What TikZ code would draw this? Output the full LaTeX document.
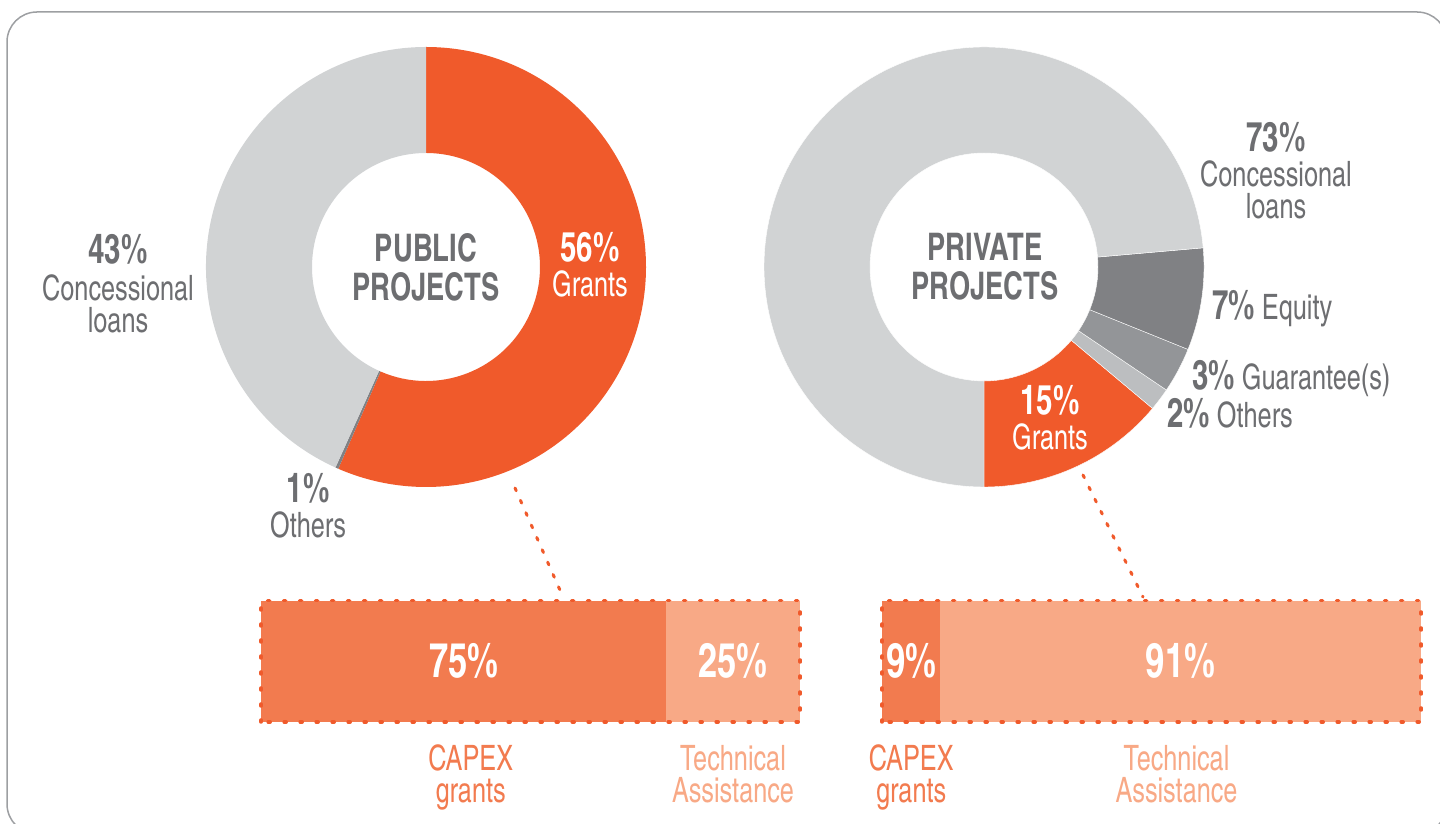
\documentclass[tikz,border=0pt]{standalone}
\usepackage{fontspec}
\setmainfont{texgyreheroscn}[Extension=.otf, UprightFont=*-regular, BoldFont=*-bold, FakeStretch=0.88]
\usetikzlibrary{positioning}
\definecolor{grant}{HTML}{F05A2B}
\definecolor{loan}{HTML}{D1D3D4}
\definecolor{equity}{HTML}{808184}
\definecolor{guar}{HTML}{939598}
\definecolor{othr}{HTML}{BCBEC0}
\definecolor{txtgray}{HTML}{6D6E71}
\definecolor{capex}{HTML}{F27B4F}
\definecolor{techas}{HTML}{F8A986}
\definecolor{framegray}{HTML}{9D9FA2}
\tikzset{
  share/.style={align=center, inner sep=0pt, text=txtgray, font=\fontsize{35}{32}\selectfont},
  title/.style={align=center, inner sep=0pt, text=txtgray, font=\fontsize{38}{39}\selectfont\bfseries},
  barseg/.style={minimum height=121pt, inner sep=0pt, text=white, font=\fontsize{48}{48}\selectfont\bfseries},
  barlbl/.style={align=center, inner sep=0pt, font=\fontsize{35}{32}\selectfont},
  dotframe/.style={grant, line width=3.5pt, line cap=round, dash pattern=on 2pt off 14pt},
  link/.style={grant, line width=3pt, line cap=round, dash pattern=on 3pt off 10.5pt}
}
\newcommand{\pc}[1]{{\fontsize{41}{41}\selectfont\bfseries #1}}

\begin{document}
\begin{tikzpicture}[x=1pt, y=1pt]
\useasboundingbox (0,0) rectangle (1440,824);
\draw[framegray, line width=1.5pt, rounded corners=30pt] (7,812) rectangle (1447,-10);

\begin{scope}[shift={(426,557)}]
\foreach \a/\b/\c in {90/-113.5/grant, -113.5/-114.3/equity, -114.3/-270/loan}
  \fill[\c] (\a:220) arc[start angle=\a, end angle=\b, radius=220] -- (\b:114) arc[start angle=\b, end angle=\a, radius=114] -- cycle;
\end{scope}
\begin{scope}[shift={(984,557)}]
\foreach \a/\b/\c in {-90/-40/grant, -40/-34/othr, -34/-22/guar, -22/5/equity, 5/270/loan}
  \filldraw[\c, draw=white, line width=0.4pt] (\a:220) arc[start angle=\a, end angle=\b, radius=220] -- (\b:114) arc[start angle=\b, end angle=\a, radius=114] -- cycle;
\end{scope}

\node[title] (pubtitle) at (426,557) {PUBLIC\\PROJECTS};
\node[share, text=white] (pubgrants) at (590,559) {\pc{56\%}\\[3pt]Grants};
\node[share] (publoans) at (118,540) {\pc{43\%}\\[5pt]Concessional\\loans};
\node[share] (pubothers) at (308,318) {\pc{1\%}\\[3pt]Others};

\node[title] (prititle) at (985,557) {PRIVATE\\PROJECTS};
\node[share] (priloans) at (1276,653) {\pc{73\%}\\[3pt]Concessional\\loans};
\node[share, anchor=base west] (priequity) at (1212,504) {\pc{7\%} Equity};
\node[share, anchor=base west] (priguar) at (1192,434) {\pc{3\%} Guarantee(s)};
\node[share, anchor=base west] (priothers) at (1167,396) {\pc{2\%} Others};
\node[share, text=white] (prigrants) at (1050,406) {\pc{15\%}\\[3pt]Grants};

\node[barseg, fill=capex, minimum width=405pt, anchor=south west] (pubcapex) at (261,102) {75\%};
\node[barseg, fill=techas, minimum width=134pt, right=-0.6pt of pubcapex] (pubta) {25\%};
\draw[dotframe] (pubcapex.south west) rectangle (pubta.north east);
\node[barlbl, text=capex, below=23pt of pubcapex, xshift=7pt] (pubcapexlbl) {CAPEX\\grants};
\node[barlbl, text=techas, below=23pt of pubta] (pubtalbl) {Technical\\Assistance};

\node[barseg, fill=capex, minimum width=58pt, anchor=south west] (pricapex) at (882,102) {9\%};
\node[barseg, fill=techas, minimum width=481pt, right=-0.6pt of pricapex] (prita) {91\%};
\draw[dotframe] (pricapex.south west) rectangle (prita.north east);
\node[barlbl, text=capex, below=23pt of pricapex] (pricapexlbl) {CAPEX\\grants};
\node[barlbl, text=techas, below=23pt of prita, xshift=-4pt] (pritalbl) {Technical\\Assistance};

\coordinate (pubfrom) at (515,336);
\coordinate (pubto) at (563,227);
\draw[link] (pubfrom) -- (pubto);
\coordinate (prifrom) at (1083,349);
\coordinate (prito) at (1143,227);
\draw[link] (prifrom) -- (prito);
\end{tikzpicture}
\end{document}
